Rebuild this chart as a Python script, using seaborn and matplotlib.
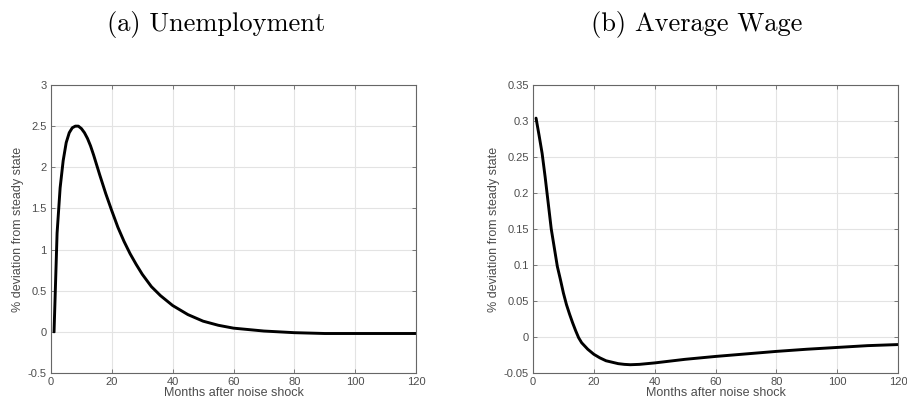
import matplotlib
matplotlib.use("Agg")
import matplotlib.pyplot as plt
import seaborn as sns
from matplotlib.ticker import FuncFormatter

# Unemployment response (months after shock, % deviation)
unemp_months = [1, 2, 3, 4, 5, 6, 7, 8, 9, 10, 11, 12, 13, 14, 15, 16, 18, 20, 22, 24,
                26, 28, 30, 33, 36, 40, 45, 50, 55, 60, 70, 80, 90, 100, 110, 120]
unemp_values = [0.0, 1.2, 1.75, 2.08, 2.3, 2.42, 2.48, 2.5, 2.5, 2.47, 2.42, 2.35,
                2.26, 2.15, 2.03, 1.91, 1.68, 1.47, 1.27, 1.1, 0.95, 0.82, 0.7,
                0.55, 0.44, 0.32, 0.21, 0.13, 0.08, 0.045, 0.01, -0.01, -0.02,
                -0.02, -0.02, -0.02]

# Average wage response
wage_months = [1, 2, 3, 4, 5, 6, 7, 8, 9, 10, 11, 12, 13, 14, 15, 16, 18, 20, 22,
               24, 26, 28, 30, 32, 35, 40, 50, 60, 70, 80, 90, 100, 110, 120]
wage_values = [0.304, 0.28, 0.255, 0.222, 0.186, 0.15, 0.124, 0.098, 0.08, 0.061,
               0.045, 0.032, 0.02, 0.009, -0.001, -0.008, -0.017, -0.024, -0.029,
               -0.033, -0.035, -0.037, -0.038, -0.0385, -0.038, -0.036, -0.031,
               -0.027, -0.0235, -0.020, -0.017, -0.0145, -0.012, -0.0105]

titles = ["(a) Unemployment", "(b) Average Wage"]
ylims = [(-0.5, 3), (-0.05, 0.35)]
ysteps = [0.5, 0.05]

sns.set_style("white")
plt.rcParams['font.family'] = ['Liberation Sans', 'DejaVu Sans']

fig = plt.figure(figsize=(9.07, 4.08), dpi=100)
ax1 = fig.add_axes([51 / 907, 1 - 373 / 408, 365 / 907, 288 / 408])
ax2 = fig.add_axes([533 / 907, 1 - 373 / 408, 365 / 907, 288 / 408])

txt = '#4d4d4d'
data = [(unemp_months, unemp_values), (wage_months, wage_values)]
for ax, (mx, vy), lim, step in zip([ax1, ax2], data, ylims, ysteps):
    sns.lineplot(x=mx, y=vy, ax=ax, color='black', linewidth=2.1)
    ax.set_xlim(0, 120)
    ax.set_ylim(*lim)
    ax.set_xticks(range(0, 121, 20))
    n = int(round((lim[1] - lim[0]) / step))
    ax.set_yticks([lim[0] + i * step for i in range(n + 1)])
    ax.yaxis.set_major_formatter(FuncFormatter(lambda v, p: '%g' % round(v, 4)))
    ax.grid(True, color='#e3e3e3', linewidth=0.8)
    for s in ax.spines.values():
        s.set_color('#666666')
        s.set_linewidth(0.8)
    ax.tick_params(direction='in', length=3, width=0.6, colors='#666666',
                   labelcolor=txt, labelsize=8, top=True, right=True,
                   bottom=True, left=True, pad=3)
    ax.set_xlabel('Months after noise shock', fontsize=9, color=txt, labelpad=0)
    ax.set_ylabel('% deviation from steady state', fontsize=9, color=txt, labelpad=3)

fig.text(216 / 907, 1 - 24 / 408, titles[0], family='cmr10', fontsize=19,
         ha='center', va='center', color='black')
fig.text(697 / 907, 1 - 24 / 408, titles[1], family='cmr10', fontsize=19,
         ha='center', va='center', color='black')

fig.savefig('out.png', dpi=100)
